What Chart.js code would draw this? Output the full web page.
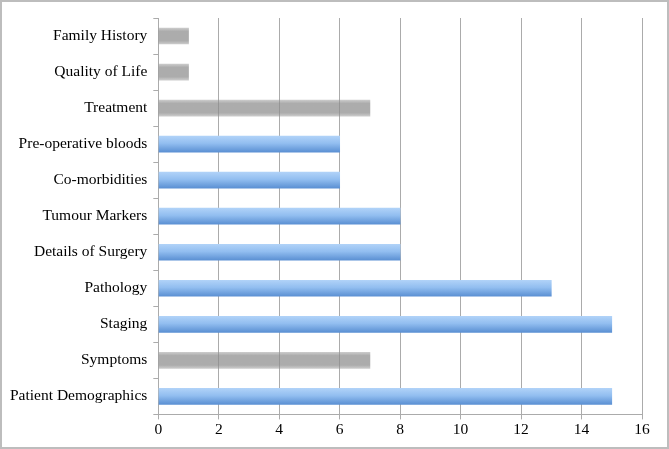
<!DOCTYPE html>
<html lang="en">
<head>
  <meta charset="UTF-8">
  <title>Data Items</title>
  <style>
    html, body { margin: 0; padding: 0; background: #fff; }
    #wrap {
      width: 669px;
      height: 449px;
      box-sizing: border-box;
      border: 2px solid #bdbdbd;
      position: relative;
    }
  </style>
  <script src="https://cdn.jsdelivr.net/npm/chart.js"></script>
</head>
<body>
  <div id="wrap">
    <canvas id="chart" width="665" height="445"></canvas>
  </div>

  <script>
    // categories, top to bottom
    const categories = [
      'Family History', 'Quality of Life', 'Treatment', 'Pre-operative bloods',
      'Co-morbidities', 'Tumour Markers', 'Details of Surgery', 'Pathology',
      'Staging', 'Symptoms', 'Patient Demographics'
    ];
    const counts = [1, 1, 7, 6, 6, 8, 8, 13, 15, 7, 15];
    // true = blue bar, false = grey bar
    const highlighted = [false, false, false, true, true, true, true, true, true, false, true];
    const xTicks = [0, 2, 4, 6, 8, 10, 12, 14, 16];

    const BAR = 16;

    function barColor(ctx) {
      const chart = ctx.chart;
      const y = chart.scales.y;
      const i = ctx.dataIndex;
      if (!y || y.top === undefined) return highlighted[i] ? '#8ab9ee' : 'rgba(128,128,128,0.7)';
      const c = y.getPixelForValue(i);
      const g = chart.ctx.createLinearGradient(0, c - BAR / 2, 0, c + BAR / 2);
      if (highlighted[i]) {
        g.addColorStop(0, '#b0d2f8');
        g.addColorStop(0.45, '#92bef0');
        g.addColorStop(1, '#5b90d3');
      } else {
        g.addColorStop(0, 'rgba(150,150,150,0.5)');
        g.addColorStop(0.2, 'rgba(140,140,140,0.72)');
        g.addColorStop(0.8, 'rgba(140,140,140,0.72)');
        g.addColorStop(1, 'rgba(150,150,150,0.5)');
      }
      return g;
    }

    const font = { family: '"Liberation Serif", "DejaVu Serif", serif', size: 15.5 };

    new Chart(document.getElementById('chart'), {
      type: 'bar',
      data: {
        labels: categories,
        datasets: [{
          data: counts,
          backgroundColor: barColor,
          borderWidth: 0,
          barThickness: BAR
        }]
      },
      options: {
        indexAxis: 'y',
        responsive: false,
        animation: false,
        layout: { padding: { top: 16, right: 25, bottom: 7, left: 2 } },
        plugins: {
          legend: { display: false },
          tooltip: { enabled: false }
        },
        scales: {
          x: {
            min: 0,
            max: 16,
            afterBuildTicks: (axis) => { axis.ticks = xTicks.map(v => ({ value: v })); },
            grid: { color: '#ababab', lineWidth: 1, tickLength: 5 },
            border: { color: '#ababab' },
            ticks: { color: '#000', font: font, padding: 1, maxRotation: 0 }
          },
          y: {
            grid: { drawOnChartArea: false, color: '#ababab', tickLength: 5, offset: true },
            border: { color: '#ababab' },
            ticks: { color: '#000', font: font, padding: 6 }
          }
        }
      }
    });
  </script>
</body>
</html>
